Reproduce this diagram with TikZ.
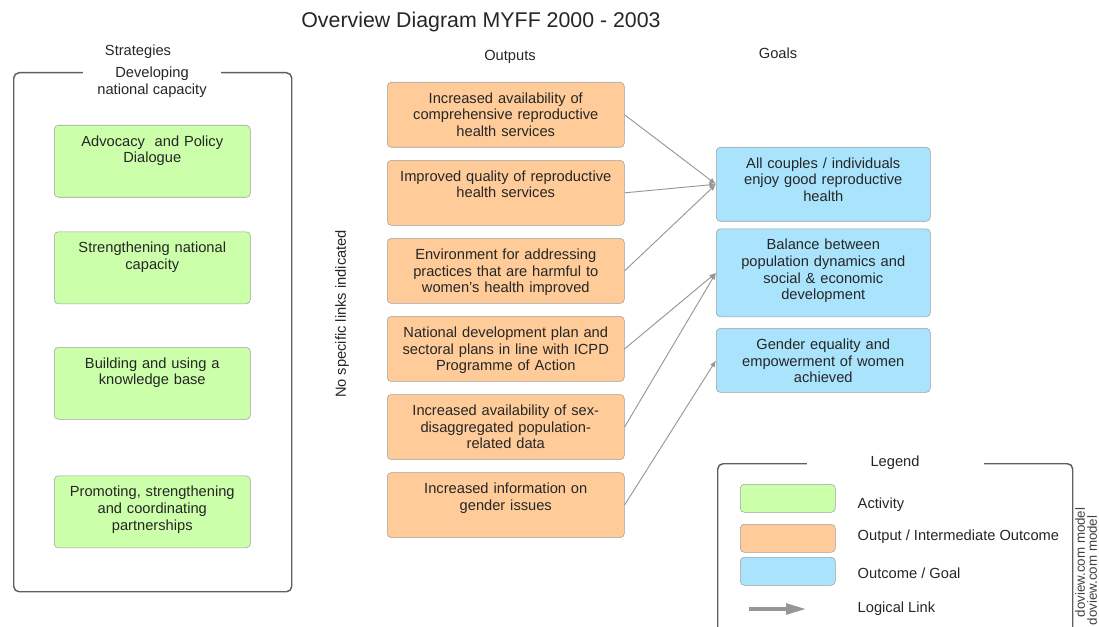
\documentclass[tikz,border=0pt]{standalone}
\usepackage{fontspec}
\setmainfont{Liberation Sans}
\usetikzlibrary{arrows.meta, positioning}

\definecolor{actgreen}{RGB}{204,255,170}
\definecolor{outorange}{RGB}{255,204,153}
\definecolor{goalblue}{RGB}{170,228,252}
\definecolor{boxline}{RGB}{160,160,160}
\definecolor{framegray}{RGB}{95,95,95}
\definecolor{linkgray}{RGB}{150,150,150}

\begin{document}
\begin{tikzpicture}[
    x=0.75pt, y=-0.75pt,
    font=\fontsize{11}{12.5}\selectfont,
    every node/.style={text=black!85},
    boxcell/.style={rectangle, draw=boxline, rounded corners=3pt, align=center, inner xsep=4pt, inner ysep=5.5pt, text height=10.25pt},
    actbox/.style={boxcell, fill=actgreen, text width=139pt, text depth=32.75pt},
    outbox/.style={boxcell, fill=outorange, text width=169.75pt, text depth=27.5pt},
    goalbox/.style={boxcell, fill=goalblue, text width=152.5pt},
    keybox/.style={rectangle, draw=boxline, rounded corners=3pt, minimum width=71.25pt, minimum height=21pt},
    group/.style={rectangle, draw=framegray, line width=1.1pt, rounded corners=4pt},
    grouptitle/.style={fill=white, align=center, inner sep=1pt},
    link/.style={-{Latex[length=5pt, width=4pt]}, draw=linkgray, line width=0.7pt},
    keylink/.style={-{Triangle[length=15pt, width=8pt]}, draw=linkgray, line width=2.6pt}
]
\useasboundingbox (0,0) rectangle (1099,627);

% Titles
\node[font=\fontsize{16}{19}\selectfont] (title) at (481,22) {Overview Diagram MYFF 2000 - 2003};
\node (strathead) at (138,52) {Strategies};
\node (outhead) at (510,57) {Outputs};
\node (goalhead) at (778,53) {Goals};

% Strategies
\node[group, anchor=north west, minimum width=208.5pt, minimum height=389.25pt] (stratframe) at (13,72) {};
\node[grouptitle, minimum width=103.5pt] (strattitle) at (152,82) {Developing\\national capacity};

\node[actbox, anchor=north west] (act1) at (54,125) {Advocacy~ and Policy\\Dialogue};
\node[actbox, below=25.5pt of act1] (act2) {Strengthening national\\capacity};
\node[actbox, below=32.25pt of act2] (act3) {Building and using a\\knowledge base};
\node[actbox, below=42pt of act3] (act4) {Promoting, strengthening\\and coordinating\\partnerships};

\node[rotate=90] (nolinks) at (342,314) {No specific links indicated};

% Outputs
\node[outbox, anchor=north west] (out1) at (387,82) {Increased availability of\\comprehensive reproductive\\health services};
\node[outbox, below=9.4pt of out1] (out2) {Improved quality of reproductive\\health services};
\node[outbox, below=9.4pt of out2] (out3) {Environment for addressing\\practices that are harmful to\\women's health improved};
\node[outbox, below=9.4pt of out3] (out4) {National development plan and\\sectoral plans in line with ICPD\\Programme of Action};
\node[outbox, below=9.4pt of out4] (out5) {Increased availability of sex-\\disaggregated population-\\related data};
\node[outbox, below=9.4pt of out5] (out6) {Increased information on\\gender issues};

% Goals
\node[goalbox, anchor=north west, text depth=34.25pt] (goal1) at (716,147) {All couples / individuals\\enjoy good reproductive\\health};
\node[goalbox, below=5.25pt of goal1, text depth=44.75pt] (goal2) {Balance between\\population dynamics and\\social \& economic\\development};
\node[goalbox, below=8.25pt of goal2, text depth=26.75pt] (goal3) {Gender equality and\\empowerment of women\\achieved};

% Links
\draw[link] (out1.east) -- (goal1.west);
\draw[link] (out2.east) -- (goal1.west);
\draw[link] (out3.east) -- (goal1.west);
\draw[link] (out4.east) -- (goal2.west);
\draw[link] (out5.east) -- (goal2.west);
\draw[link] (out6.east) -- (goal3.west);

% Legend
\node[group, anchor=north west, minimum width=266.25pt, minimum height=135pt] (keyframe) at (717,463) {};
\node[grouptitle, minimum width=132.75pt] (keytitle) at (895,463) {Legend};

\node[keybox, fill=actgreen, anchor=north west] (keyact) at (740,484) {};
\node[keybox, fill=outorange, anchor=north west] (keyout) at (740,524) {};
\node[keybox, fill=goalblue, anchor=north west] (keygoal) at (740,557) {};
\coordinate (keyfrom) at (749,609);
\coordinate (keyto) at (806,609);
\draw[keylink] (keyfrom) -- (keyto);

\node[anchor=west] (keyacttext) at (853,505) {Activity};
\node[anchor=west] (keyouttext) at (853,537) {Output / Intermediate Outcome};
\node[anchor=west] (keygoaltext) at (853,573) {Outcome / Goal};
\node[anchor=west] (keylinktext) at (853,609) {Logical Link};

% Watermark
\node[rotate=90, anchor=west, font=\fontsize{10}{12}\selectfont, text=black!75] (mark1) at (1080,622) {doview.com model};
\node[rotate=90, anchor=west, font=\fontsize{10}{12}\selectfont, text=black!75] (mark2) at (1092,630) {doview.com model};

\end{tikzpicture}
\end{document}
